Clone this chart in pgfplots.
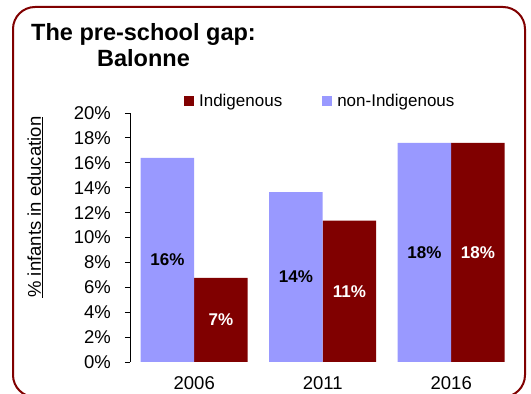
\documentclass[border=0pt]{standalone}
\usepackage{fontspec}
\setmainfont{Liberation Sans}
\usepackage{pgfplots}
\pgfplotsset{compat=1.18}
\definecolor{indig}{HTML}{800000}
\definecolor{nonindig}{HTML}{9999FF}
\begin{document}
\begin{tikzpicture}
\useasboundingbox (0,0) rectangle (531pt,394pt);
\draw[indig, line width=2pt, rounded corners=22pt] (13pt,-3pt) rectangle (525pt,387pt);
\begin{axis}[
  at={(130pt,32pt)}, anchor=south west,
  scale only axis, width=385.5pt, height=249pt,
  ybar, bar width=53.5pt,
  xmin=-0.5, xmax=2.5, ymin=0, ymax=20,
  enlargelimits=false,
  axis lines*=left,
  x axis line style={draw=none},
  y axis line style={-, black, line width=0.8pt},
  tick align=outside, major tick length=5pt,
  xtick={0,1,2}, xticklabels={2006,2011,2016},
  xtick style={draw=none},
  ytick style={black, line width=0.8pt},
  ytick={0,2,...,20},
  yticklabels={0\%,2\%,4\%,6\%,8\%,10\%,12\%,14\%,16\%,18\%,20\%},
  ticklabel style={font=\fontsize{18.5}{18.5}\selectfont},
  yticklabel style={inner sep=0pt, xshift=-14pt},
  xticklabel style={inner sep=0pt, anchor=north, yshift=-9pt},
  ylabel={\underline{\% infants in education}},
  ylabel style={at={(axis description cs:-0.246,0.622)}, anchor=center,
    font=\fontsize{18.5}{18.5}\selectfont},
  title={The pre-school gap:\\Balonne},
  title style={at={(axis description cs:0.035,1.249)}, anchor=center,
    align=center, inner sep=0pt, font=\fontsize{23.5}{26}\selectfont\bfseries},
  legend style={draw=none, fill=none, at={(axis description cs:0.132,1.048)},
    anchor=west, legend columns=2, font=\fontsize{17}{17}\selectfont,
    /tikz/every even column/.append style={column sep=38pt}},
  legend image code/.code={\fill[#1] (0pt,-5pt) rectangle (10pt,5pt); \path (13pt,0pt);},
  nodes near coords={\pgfmathprintnumber[fixed,precision=0,assume math mode=true]{\pgfplotspointmeta}\%},
  visualization depends on=y \as \rawy,
  nodes near coords style={anchor=center, font=\fontsize{17}{17}\selectfont\bfseries,
    shift={(axis direction cs:0,-\rawy/2)}},
]
\addplot[fill=indig, draw=none, bar shift=26.75pt, nodes near coords style={text=white}]
  coordinates {(0,6.75) (1,11.35) (2,17.6)};
\addplot[fill=nonindig, draw=none, bar shift=-26.75pt, nodes near coords style={text=black}]
  coordinates {(0,16.4) (1,13.65) (2,17.6)};
\legend{Indigenous,non-Indigenous}
\end{axis}
\end{tikzpicture}
\end{document}
